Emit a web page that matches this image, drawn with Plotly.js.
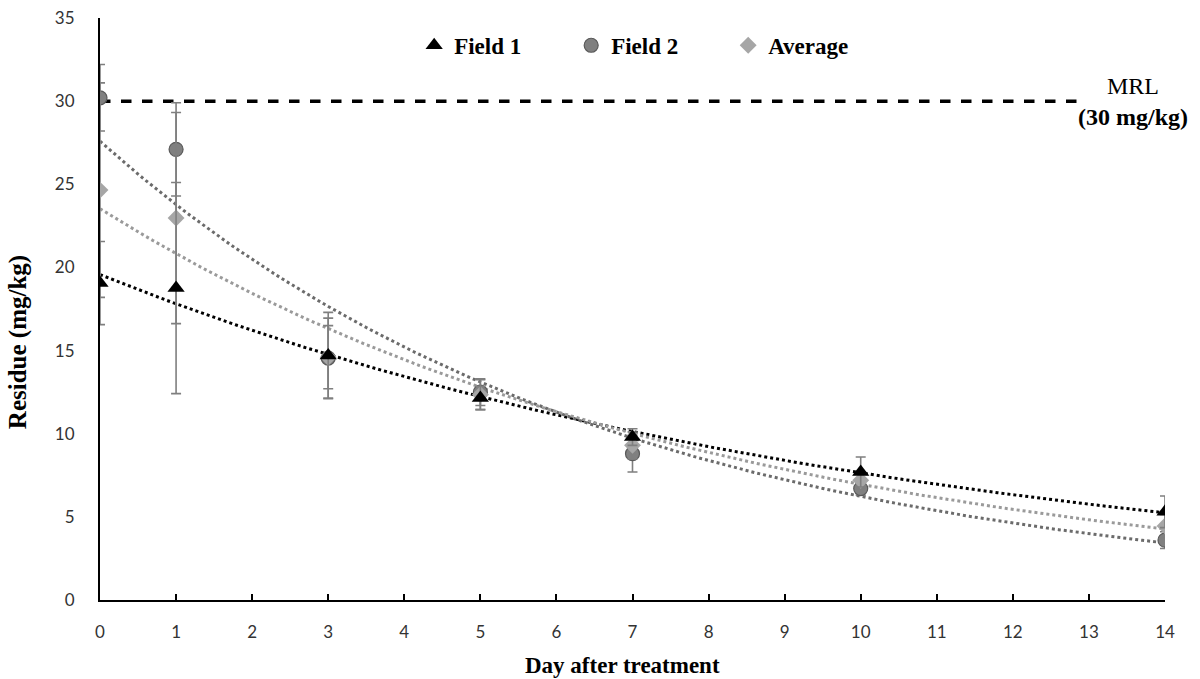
<!DOCTYPE html>
<html>
<head>
<meta charset="utf-8">
<script src="https://cdn.plot.ly/plotly-3.0.1.min.js"></script>
<style>html,body{margin:0;padding:0;background:#fff;}#chart{width:1200px;height:679px;}</style>
</head>
<body>
<div id="chart"></div>
<script>
// ---- data ----
const days = [0, 1, 3, 5, 7, 10, 14];
const field1 = [19.06, 18.76, 14.7, 12.15, 9.8, 7.7, 5.3];
const field1Err = [2.5, 6.35, 2.6, 0.7, 0.5, 0.9, 0.95];
const field2 = [30.2, 27.1, 14.55, 12.5, 8.8, 6.7, 3.6];
const field2Err = [2.0, 2.8, 2.4, 0.8, 1.1, 0.4, 0.5];
const average = [24.65, 22.97, 14.6, 12.35, 9.3, 7.2, 4.45];
const averageErr = [6.45, 6.35, 1.9, 0.9, 0.8, 0.5, 0.7];
const mrlValue = 30;
const mrlDays = [0, 12.9];
const xTicks = [0,1,2,3,4,5,6,7,8,9,10,11,12,13,14];

// exponential trendline (least squares on ln y), like a spreadsheet trendline
function expFit(xs, ys) {
  const n = xs.length;
  const ly = ys.map(Math.log);
  const mx = xs.reduce((a,b)=>a+b,0)/n;
  const my = ly.reduce((a,b)=>a+b,0)/n;
  let sxy = 0, sxx = 0;
  for (let i=0;i<n;i++){ sxy += (xs[i]-mx)*(ly[i]-my); sxx += (xs[i]-mx)*(xs[i]-mx); }
  const b = sxy/sxx, a = Math.exp(my - b*mx);
  const tx = [], ty = [];
  const x0 = Math.min(...xs), x1 = Math.max(...xs);
  for (let k=0;k<=140;k++){ const x = x0 + (x1-x0)*k/140; tx.push(x); ty.push(a*Math.exp(b*x)); }
  return {x: tx, y: ty};
}

const errC = '#7f7f7f';
const t1 = expFit(days, field1), t2 = expFit(days, field2), t3 = expFit(days, average);

const errStyle = (arr) => ({type:'data', array: arr, visible:true, color: errC, thickness:1.6, width:5});

const traces = [
  {x: t1.x, y: t1.y, mode:'lines', line:{color:'#000000', width:3, dash:'dot'}, showlegend:false, hoverinfo:'skip'},
  {x: t2.x, y: t2.y, mode:'lines', line:{color:'#6b6b6b', width:3, dash:'dot'}, showlegend:false, hoverinfo:'skip'},
  {x: t3.x, y: t3.y, mode:'lines', line:{color:'#9a9a9a', width:3, dash:'dot'}, showlegend:false, hoverinfo:'skip'},
  {x: mrlDays, y: mrlDays.map(()=>mrlValue), mode:'lines', line:{color:'#000', width:3.5, dash:'dash'}, showlegend:false, hoverinfo:'skip'},
  {x: days, y: field2, name:'Field 2', legendrank:2, mode:'markers', error_y: errStyle(field2Err),
   marker:{symbol:'circle', size:14, color:'#808080', line:{color:'#5a5a5a', width:1.2}}},
  {x: days, y: average, name:'Average', legendrank:3, mode:'markers', error_y: errStyle(averageErr),
   marker:{symbol:'diamond', size:13, color:'#a6a6a6', line:{width:0}}},
  {x: days, y: field1, name:'Field 1', legendrank:1, mode:'markers', error_y: errStyle(field1Err),
   marker:{symbol:'triangle-up', size:15, color:'#000', line:{width:0}}}
];

const serif = 'Liberation Serif, Times New Roman, serif';
const layout = {
  width:1200, height:679,
  margin:{l:100, r:35, t:18, b:79},
  paper_bgcolor:'#fff', plot_bgcolor:'#fff',
  showlegend:true,
  legend:{orientation:'h', x:0.295, y:0.99, xanchor:'left', yanchor:'top', traceorder:'normal',
          font:{family:serif, size:23, color:'#000', weight:'bold'}, entrywidth:112, itemwidth:30, bgcolor:'rgba(0,0,0,0)'},
  xaxis:{range:[0,14], tickvals:xTicks, ticktext:xTicks.map(String), showgrid:false, zeroline:false,
         showline:true, linecolor:'#000', linewidth:2, ticks:'inside', ticklen:6, tickwidth:2, tickcolor:'#000',
         tickfont:{family:'Lato, Liberation Sans, sans-serif', size:17, color:'#333'}, ticklabelstandoff:16},
  yaxis:{range:[0,35], dtick:5, tick0:0, showgrid:false, zeroline:false,
         showline:true, linecolor:'#000', linewidth:2, ticks:'',
         tickfont:{family:'Lato, Liberation Sans, sans-serif', size:17, color:'#333'}, ticklabelstandoff:20},
  annotations:[
    {xref:'paper', yref:'paper', x:0.491, y:-0.1117, xanchor:'center', yanchor:'middle',
     text:'<b>Day after treatment</b>', showarrow:false, font:{family:serif, size:23, color:'#000'}},
    {xref:'paper', yref:'paper', x:-0.077, y:0.443, xanchor:'center', yanchor:'middle',
     text:'<b>Residue (mg/kg)</b>', textangle:-90, showarrow:false, font:{family:serif, size:25, color:'#000'}},
    {xref:'x', yref:'y', x:13.58, y:30.0, xanchor:'center', yanchor:'middle',
     text:'MRL<br><b>(30 mg/kg)</b>', showarrow:false, align:'center', font:{family:serif, size:24, color:'#000'}}
  ]
};
Plotly.newPlot('chart', traces, layout, {displayModeBar:false, staticPlot:true});
</script>
</body>
</html>
